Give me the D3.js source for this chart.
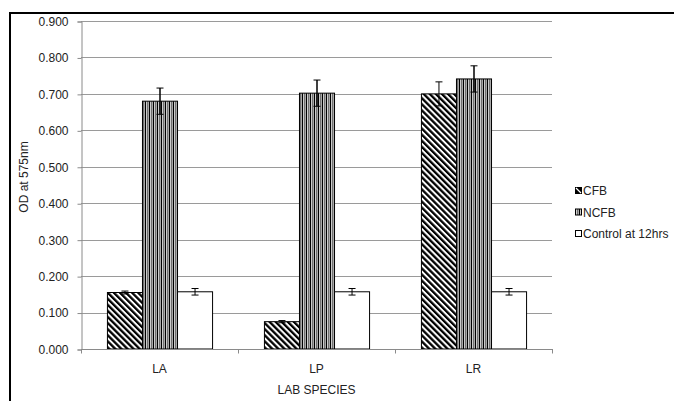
<!DOCTYPE html>
<html>
<head>
<meta charset="utf-8">
<script src="https://cdn.jsdelivr.net/npm/d3@7"></script>
<style>
  body { margin: 0; background: #fff; }
  text { font-family: "Liberation Sans", Arial, sans-serif; fill: #222; }
</style>
</head>
<body>
<div id="chart"></div>
<script>
// Data
var categories = ["LA", "LP", "LR"];
var seriesNames = ["CFB", "NCFB", "Control at 12hrs"];
var cfb = [0.155, 0.075, 0.700];
var ncfb = [0.680, 0.702, 0.741];
var control = [0.157, 0.157, 0.157];
var cfbErr = [0.004, 0.003, 0.033];
var ncfbErr = [0.036, 0.036, 0.036];
var controlErr = [0.009, 0.009, 0.009];
var yTicks = [0, 0.1, 0.2, 0.3, 0.4, 0.5, 0.6, 0.7, 0.8, 0.9];

var width = 675, height = 401;
var plot = { left: 81, right: 552, top: 21, bottom: 349 };
var fontSize = "12px";

var svg = d3.select("#chart").append("svg")
    .attr("width", width)
    .attr("height", height);

// fill patterns
var defs = svg.append("defs");
var diag = defs.append("pattern")
    .attr("id", "diag")
    .attr("patternUnits", "userSpaceOnUse")
    .attr("width", 4.3).attr("height", 4.3)
    .attr("patternTransform", "rotate(-45)");
diag.append("rect").attr("width", 4.3).attr("height", 4.3).attr("fill", "#fff");
diag.append("rect").attr("width", 2.3).attr("height", 4.3).attr("fill", "#000");

var vert = defs.append("pattern")
    .attr("id", "vert")
    .attr("patternUnits", "userSpaceOnUse")
    .attr("width", 4).attr("height", 4);
vert.append("rect").attr("width", 4).attr("height", 4).attr("fill", "#fff");
vert.append("rect").attr("x", 0).attr("width", 1.2).attr("height", 4).attr("fill", "#000");
vert.append("rect").attr("x", 2).attr("width", 1.6).attr("height", 4).attr("fill", "#707070");

var fills = ["url(#diag)", "url(#vert)", "#fff"];

// scales
var y = d3.scaleLinear().domain([0, 0.9]).range([plot.bottom, plot.top]);
var x0 = d3.scaleBand().domain(categories).range([plot.left, plot.right]).padding(0);
var x1 = d3.scaleBand().domain(seriesNames).range([0, x0.bandwidth()])
    .paddingInner(0).paddingOuter(0.74);

// gridlines
svg.append("g")
    .selectAll("line")
    .data(yTicks.slice(1))
    .enter().append("line")
    .attr("x1", plot.left).attr("x2", plot.right)
    .attr("y1", d => Math.round(y(d)) + 0.5).attr("y2", d => Math.round(y(d)) + 0.5)
    .attr("stroke", "#9a9a9a");

// y axis
var yAxis = svg.append("g")
    .attr("transform", "translate(" + (plot.left + 0.5) + ",0.5)")
    .call(d3.axisLeft(y).tickValues(yTicks).tickFormat(d3.format(".3f")).tickSize(4).tickPadding(9));
yAxis.select(".domain").attr("stroke", "#8a8a8a");
yAxis.selectAll(".tick line").attr("stroke", "#8a8a8a");
yAxis.selectAll("text").style("font-size", fontSize).attr("fill", "#222");

// bars
var rows = categories.map(function (c, i) {
    return [
        { cat: c, s: 0, v: cfb[i], e: cfbErr[i] },
        { cat: c, s: 1, v: ncfb[i], e: ncfbErr[i] },
        { cat: c, s: 2, v: control[i], e: controlErr[i] }
    ];
});

var groups = svg.append("g").selectAll("g")
    .data(rows)
    .enter().append("g")
    .attr("transform", d => "translate(" + x0(d[0].cat) + ",0)");

groups.selectAll("rect")
    .data(d => d)
    .enter().append("rect")
    .attr("x", d => x1(seriesNames[d.s]) + 0.5)
    .attr("y", d => y(d.v))
    .attr("width", x1.bandwidth())
    .attr("height", d => plot.bottom - y(d.v))
    .attr("fill", d => fills[d.s])
    .attr("stroke", "#000")
    .attr("stroke-width", 1);

// error bars
var eb = groups.selectAll(".err")
    .data(d => d)
    .enter().append("g")
    .attr("class", "err")
    .attr("transform", d => "translate(" + (x1(seriesNames[d.s]) + x1.bandwidth() / 2 + 0.5) + ",0)");
eb.append("line")
    .attr("y1", d => y(d.v + d.e)).attr("y2", d => y(d.v - d.e))
    .attr("stroke", "#000").attr("stroke-width", d => d.s === 1 ? 1.5 : 1);
eb.append("line")
    .attr("x1", -3.5).attr("x2", 3.5)
    .attr("y1", d => y(d.v + d.e)).attr("y2", d => y(d.v + d.e))
    .attr("stroke", "#000");
eb.append("line")
    .attr("x1", -3.5).attr("x2", 3.5)
    .attr("y1", d => y(d.v - d.e)).attr("y2", d => y(d.v - d.e))
    .attr("stroke", "#000");

// x axis
var xAxis = svg.append("g")
    .attr("transform", "translate(0," + (plot.bottom + 0.5) + ")");
xAxis.append("line")
    .attr("x1", plot.left).attr("x2", plot.right + 1)
    .attr("stroke", "#8a8a8a");
xAxis.selectAll(".xt")
    .data(categories.concat(["end"]))
    .enter().append("line")
    .attr("class", "xt")
    .attr("x1", (d, i) => Math.round(plot.left + i * x0.step()) + 0.5)
    .attr("x2", (d, i) => Math.round(plot.left + i * x0.step()) + 0.5)
    .attr("y1", 0).attr("y2", 4)
    .attr("stroke", "#8a8a8a");
xAxis.selectAll("text")
    .data(categories)
    .enter().append("text")
    .attr("x", d => x0(d) + x0.bandwidth() / 2)
    .attr("y", 23)
    .attr("text-anchor", "middle")
    .style("font-size", fontSize)
    .text(d => d);

// axis titles
svg.append("text")
    .attr("x", (plot.left + plot.right) / 2)
    .attr("y", 394)
    .attr("text-anchor", "middle")
    .style("font-size", fontSize)
    .text("LAB SPECIES");

svg.append("text")
    .attr("transform", "translate(28,177) rotate(-90)")
    .attr("text-anchor", "middle")
    .style("font-size", fontSize)
    .text("OD at 575nm");

// legend
var legend = svg.append("g").attr("transform", "translate(575,187)");
var li = legend.selectAll("g")
    .data(seriesNames)
    .enter().append("g")
    .attr("transform", (d, i) => "translate(0," + i * 21.5 + ")");
li.append("rect")
    .attr("x", 0.5).attr("y", 0.5)
    .attr("width", 6).attr("height", 6)
    .attr("fill", (d, i) => i === 0 ? "#000" : fills[i])
    .attr("stroke", "#000");
li.filter((d, i) => i === 0).append("line")
    .attr("x1", 1).attr("y1", 1).attr("x2", 6).attr("y2", 6)
    .attr("stroke", "#fff").attr("stroke-width", 1.2);
li.append("text")
    .attr("x", 8)
    .attr("y", 8)
    .style("font-size", fontSize)
    .text(d => d);

// outer frame (only top and left visible)
svg.append("path")
    .attr("d", "M10,401 V13 H674")
    .attr("fill", "none")
    .attr("stroke", "#000")
    .attr("stroke-width", 2);
</script>
</body>
</html>
